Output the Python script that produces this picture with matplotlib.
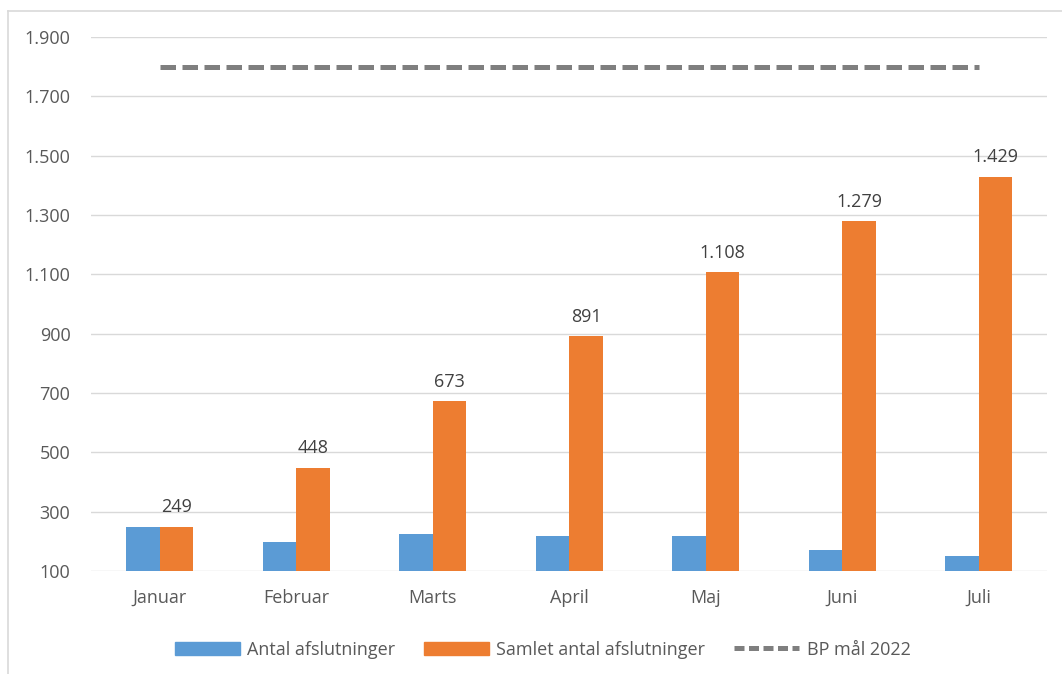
import numpy as np
import matplotlib.pyplot as plt
from matplotlib.lines import Line2D

plt.rcParams['font.family'] = ['Open Sans', 'DejaVu Sans']

months = ["Januar", "Februar", "Marts", "April", "Maj", "Juni", "Juli"]
antal = [249, 199, 225, 218, 217, 171, 150]
samlet = [249, 448, 673, 891, 1108, 1279, 1429]
bp_maal = 1800
yticks = [100, 300, 500, 700, 900, 1100, 1300, 1500, 1700, 1900]


def fmt(v):
    return f"{v:,}".replace(",", ".")


def main():
    fig = plt.figure(figsize=(10.62, 6.74), dpi=100)
    ax = fig.add_axes([0.086, 0.153, 0.900, 0.792])

    x = np.arange(len(months))
    w = 0.245
    ax.bar(x - w / 2, antal, w, color="#5B9BD5", label="Antal afslutninger", zorder=3)
    ax.bar(x + w / 2, samlet, w, color="#ED7D31", label="Samlet antal afslutninger", zorder=3)
    ax.plot([x[0], x[-1]], [bp_maal, bp_maal], color="#7F7F7F", lw=3.6,
            dashes=(3.1, 1.3), zorder=4)

    for xi, v in zip(x, samlet):
        ax.text(xi + w / 2, v + 35, fmt(v), ha="center", va="bottom",
                fontsize=13, color="#404040")

    ax.set_xlim(-0.5, len(months) - 0.5)
    ax.set_ylim(100, 1900)
    ax.set_yticks(yticks)
    ax.set_yticklabels([fmt(t) for t in yticks])
    ax.set_xticks(x)
    ax.set_xticklabels(months)
    ax.tick_params(axis="both", length=0, labelsize=13, colors="#595959")
    ax.tick_params(axis="x", pad=13)
    ax.tick_params(axis="y", pad=15)
    ax.grid(axis="y", color="#D9D9D9", lw=1, zorder=0)
    for s in ax.spines.values():
        s.set_visible(False)

    handles = [
        plt.Rectangle((0, 0), 1, 1, color="#5B9BD5"),
        plt.Rectangle((0, 0), 1, 1, color="#ED7D31"),
        Line2D([], [], color="#7F7F7F", lw=3.6, dashes=(2.0, 0.9)),
    ]
    labels = ["Antal afslutninger", "Samlet antal afslutninger", "BP mål 2022"]
    fig.legend(handles, labels, loc="center", bbox_to_anchor=(0.511, 0.036),
               ncol=3, frameon=False, fontsize=13, labelcolor="#595959",
               handlelength=3.6, handleheight=0.7, handletextpad=0.4,
               columnspacing=1.6)

    # chart border (left and top)
    fig.add_artist(Line2D([0.0075, 0.0075], [0, 0.984], color="#D9D9D9", lw=1.2))
    fig.add_artist(Line2D([0.0075, 1], [0.984, 0.984], color="#D9D9D9", lw=1.2))

    fig.savefig("out.png", dpi=100)


if __name__ == "__main__":
    main()
